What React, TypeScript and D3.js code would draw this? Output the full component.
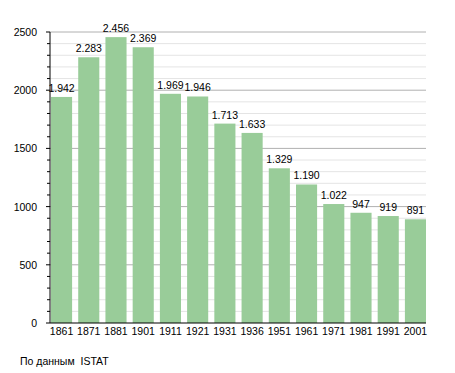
import React from "react";
import * as d3 from "d3";

const years = ["1861","1871","1881","1901","1911","1921","1931","1936","1951","1961","1971","1981","1991","2001"];
const population = [1942,2283,2456,2369,1969,1946,1713,1633,1329,1190,1022,947,919,891];
const yTicks = [0,500,1000,1500,2000,2500];
const sourceText = "По данным  ISTAT";

const W = 455, H = 373;
const m = { left: 50, right: 426, top: 32, bottom: 323 };

export default function App() {
  const x = d3.scaleBand<string>().domain(years).range([m.left + 1, m.right]).paddingInner(0.225).paddingOuter(0);
  const y = d3.scaleLinear().domain([0, 2500]).range([m.bottom, m.top]);
  const minor = d3.range(0, 2501, 100);
  const fmt = (v: number) => v >= 1000 ? `${Math.floor(v / 1000)}.${String(v % 1000).padStart(3, "0")}` : String(v);
  const font = "'Liberation Sans', Arial, sans-serif";
  const fs = 10.5;
  return (
    <svg width={W} height={H} style={{ position: "absolute", left: 0, top: 0, background: "#fff" }} fontFamily={font}>
      {minor.filter(v => v % 500 !== 0).map(v => (
        <line key={"g" + v} x1={m.left} x2={m.right} y1={y(v)} y2={y(v)} stroke="#e4e4e4" strokeWidth={1} />
      ))}
      {yTicks.filter(v => v > 0).map(v => (
        <line key={"G" + v} x1={m.left} x2={m.right} y1={y(v)} y2={y(v)} stroke="#b0b0b0" strokeWidth={1} />
      ))}
      {minor.map(v => (
        <line key={"t" + v} x1={m.left - (v % 500 === 0 ? 4 : 3)} x2={m.left} y1={y(v)} y2={y(v)} stroke="#000" strokeWidth={1} />
      ))}
      {years.map((yr, i) => (
        <rect key={yr} x={x(yr)} y={y(population[i])} width={x.bandwidth()} height={m.bottom - y(population[i])} fill="#99cc99" />
      ))}
      {years.map((yr, i) => (
        <text key={"v" + yr} x={(x(yr) as number) + x.bandwidth() / 2} y={y(population[i]) - 5} textAnchor="middle" fontSize={fs} fill="#000">{fmt(population[i])}</text>
      ))}
      <line x1={m.left} x2={m.left} y1={m.top} y2={m.bottom} stroke="#000" strokeWidth={1} />
      <line x1={m.left} x2={m.right} y1={m.bottom} y2={m.bottom} stroke="#000" strokeWidth={1} />
      {yTicks.map(v => (
        <text key={"yl" + v} x={37} y={y(v) + 4} textAnchor="end" fontSize={fs} fill="#000">{v}</text>
      ))}
      {years.map(yr => (
        <text key={"xl" + yr} x={(x(yr) as number) + x.bandwidth() / 2} y={335} textAnchor="middle" fontSize={fs} fill="#000">{yr}</text>
      ))}
      <text x={20} y={365} fontSize={fs} fill="#000" style={{ whiteSpace: "pre" }}>{sourceText}</text>
    </svg>
  );
}
